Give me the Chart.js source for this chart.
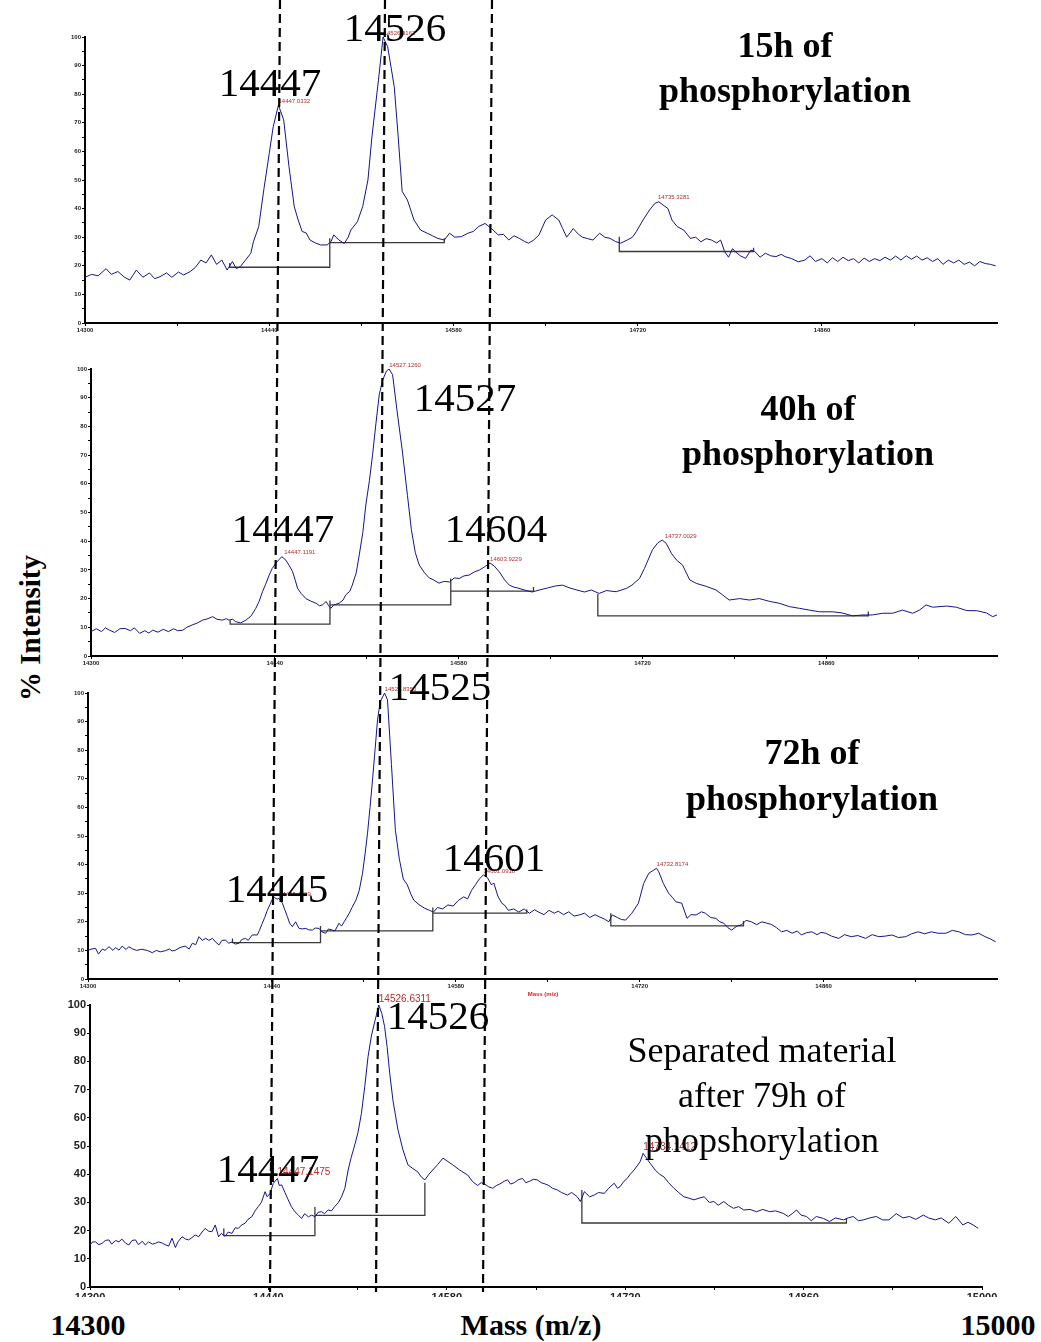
<!DOCTYPE html>
<html>
<head>
<meta charset="utf-8">
<script src="https://cdn.jsdelivr.net/npm/chart.js@4.4.1/dist/chart.umd.min.js"></script>
<style>
  body { margin: 0; background: #fff; }
  #fig { position: relative; width: 1041px; height: 1342px; overflow: hidden;
         font-family: "Liberation Serif", "Times New Roman", serif; }
  canvas { position: absolute; }
  .lbl { position: absolute; transform: translate(-50%, -50%); white-space: nowrap; line-height: 1; color: #000; }
  .mz { font-size: 41px; }
  .title { font-size: 36px; font-weight: bold; }
  .sep { font-size: 36px; }
  .axis { font-size: 30px; font-weight: bold; }
  #guides { position: absolute; left: 0; top: 0; pointer-events: none; }
</style>
</head>
<body>
<div id="fig">
  <canvas id="c1"></canvas>
  <canvas id="c2"></canvas>
  <canvas id="c3"></canvas>
  <canvas id="c4"></canvas>

  <div class="lbl mz" style="left:395px;top:27px">14526</div>
  <div class="lbl mz" style="left:270px;top:82px">14447</div>
  <div class="lbl title" style="left:785px;top:45px">15h of</div>
  <div class="lbl title" style="left:785px;top:90px">phosphorylation</div>

  <div class="lbl mz" style="left:465px;top:397px">14527</div>
  <div class="lbl mz" style="left:283px;top:528px">14447</div>
  <div class="lbl mz" style="left:496px;top:528px">14604</div>
  <div class="lbl title" style="left:808px;top:408px">40h of</div>
  <div class="lbl title" style="left:808px;top:453px">phosphorylation</div>

  <div class="lbl mz" style="left:440px;top:686px">14525</div>
  <div class="lbl mz" style="left:494px;top:857px">14601</div>
  <div class="lbl mz" style="left:277px;top:888px">14445</div>
  <div class="lbl title" style="left:812px;top:752px">72h of</div>
  <div class="lbl title" style="left:812px;top:798px">phosphorylation</div>
  <div class="lbl" style="left:543px;top:994px;font:bold 6px 'Liberation Sans',Arial,sans-serif;color:#e02020">Mass (m/z)</div>

  <div class="lbl mz" style="left:438px;top:1015px">14526</div>
  <div class="lbl mz" style="left:268px;top:1168px">14447</div>
  <div class="lbl sep" style="left:762px;top:1050px">Separated material</div>
  <div class="lbl sep" style="left:762px;top:1095px">after 79h of</div>
  <div class="lbl sep" style="left:762px;top:1140px">phopshorylation</div>

  <div class="lbl axis" style="left:30px;top:628px;transform:translate(-50%,-50%) rotate(-90deg);font-size:29px">% Intensity</div>
  <div class="lbl axis" style="left:88px;top:1325px">14300</div>
  <div class="lbl axis" style="left:531px;top:1325px">Mass (m/z)</div>
  <div class="lbl axis" style="left:998px;top:1325px">15000</div>

  <svg id="guides" width="1041" height="1342"></svg>
</div>

<script>
// ---- data: [mass, % intensity] ----
const p1Spectrum = [
  [14300,16],[14305,17],[14310,16.5],[14316,19],[14320,17],[14325,18],[14330,16],[14334,15],[14339,18.5],[14344,16],
  [14349,17.5],[14353,15.5],[14357,16.2],[14362,17.5],[14366,16],[14371,17.8],[14375,16.8],[14380,18],[14384,19.5],[14388,22],
  [14392,21],[14396,23.8],[14400,20.5],[14404,22],[14408,18.5],[14412,21.5],[14415,19],[14418,19.7],[14422,22],[14426,24.4],
  [14428,28.4],[14432,33.7],[14436,47],[14440,59.3],[14443,68.6],[14447,76.2],[14451,71],[14455,54.7],[14459,40.7],[14462,36],
  [14465,32],[14468,31.5],[14471,29],[14475,28],[14479,27.3],[14484,27.3],[14487,28.5],[14489,30.8],[14493,29],[14497,27.8],
  [14500,30],[14502,32.5],[14507,35.4],[14511,40.7],[14515,50],[14518,65],[14523,85],[14526.5,100],[14530,96.6],[14535,82.6],
  [14538,65],[14541,46],[14545,43],[14550,36],[14555,32.5],[14560,31.4],[14564,30.5],[14568,29.6],[14573,29],[14577,31.4],
  [14581,30],[14586,30.2],[14591,31.4],[14595,32],[14599,33.7],[14604,34.8],[14609,33],[14614,30.8],[14618,31],[14622,29],
  [14626,30.5],[14630,29.6],[14634,28.5],[14637,27.9],[14641,29],[14645,30.8],[14650,36],[14655,37.8],[14660,36],[14663,33],
  [14666,30],[14671,33],[14675,31],[14678,30],[14682,29.5],[14686,29],[14691,31.4],[14695,30],[14699,29.6],[14703,28.5],
  [14707,27.9],[14712,29],[14716,30],[14719,32],[14724,36],[14729,39.5],[14733,41.8],[14736,42.4],[14740,41],[14743,40],
  [14746,36],[14750,33.7],[14755,32.5],[14760,29.6],[14764,30],[14768,28.4],[14772,29.5],[14776,29],[14780,28],[14783,29],
  [14786,25],[14789,23],[14792,26],[14794,25],[14798,23.5],[14802,22.6],[14806,25.5],[14809,25],[14813,23],[14817,24.4],
  [14821,23.5],[14825,23.2],[14829,24],[14832,23.2],[14837,22.5],[14842,21.4],[14847,22],[14851,23.5],[14855,21.5],[14860,22.5],
  [14864,21],[14868,22.8],[14872,21.5],[14876,23],[14880,21.8],[14884,22.5],[14888,21],[14892,22.7],[14896,21.5],[14900,22.5],
  [14904,21.8],[14908,23],[14912,22],[14916,23.4],[14920,22],[14924,23.5],[14928,22.3],[14932,23.4],[14936,22],[14940,22.8],
  [14944,21.5],[14948,22.5],[14952,20.5],[14956,22],[14960,21],[14964,22],[14968,20.5],[14972,21.3],[14976,20],[14980,21.5],
  [14984,20.8],[14988,20.5],[14992,20]
];
const p2Spectrum = [
  [14300,8.5],[14304,9.5],[14308,8.5],[14311,9.8],[14314,9],[14318,8.2],[14322,9.5],[14326,9.6],[14330,8.8],[14333,9.8],
  [14337,7.9],[14341,8.8],[14344,8],[14347,9],[14351,8.3],[14355,9.3],[14359,8.5],[14363,9.5],[14366,8.8],[14370,9],
  [14373,10],[14377,10.8],[14381,11.5],[14385,12.5],[14389,13],[14392.5,13.7],[14396,12.8],[14400,12.5],[14403,13],[14405,12.5],
  [14408,12.8],[14410,12],[14414,11.5],[14418,12.5],[14422,14],[14425.5,16.6],[14428,19],[14430.6,22.4],[14433,25],[14435.7,28.2],
  [14438,30.5],[14440.8,32.3],[14443,33.5],[14445.3,34.6],[14448.4,33.4],[14451,31.5],[14453.5,29.4],[14455.5,26.5],[14457.3,23.6],[14460,21.8],
  [14463.7,20],[14467,19.2],[14471.3,18.4],[14474,17.5],[14476.4,17.8],[14479,19],[14481,17.5],[14482.6,16.6],[14485,17.8],[14489,18.4],
  [14492,19.5],[14494,21.3],[14497,22.5],[14499,24.7],[14502,29],[14504.3,35.2],[14507,43],[14509.3,52.6],[14512,61],[14514.4,70],
  [14517,81],[14519.5,91],[14522,96],[14525,99.3],[14527,100],[14529.7,98],[14533,85.7],[14537,71.8],[14541,56],[14544,44],
  [14547,36],[14550,31.7],[14554,29],[14557.6,27.2],[14561,26.5],[14565,25.4],[14569,26],[14573,25.8],[14576.7,27.2],[14580.5,27],
  [14584,27.9],[14588,28.2],[14592,29.3],[14596,30],[14599.5,31],[14603.9,32.4],[14607,31.4],[14611,29.3],[14615,26.5],[14618.6,24.7],
  [14622,24],[14625,23.7],[14630,23],[14636,22.3],[14641.5,23],[14647.6,23.7],[14653.7,24.4],[14659,24.7],[14664,23.8],[14670,23],
  [14675.8,22.3],[14681,23],[14687,21.8],[14692.5,22.8],[14700,22.4],[14708,23.6],[14712,24.7],[14717.7,27],[14721.5,30.5],[14727.6,37],
  [14731.4,39.3],[14735,40.4],[14738,39.3],[14742,35.8],[14746,33.4],[14750.5,31.7],[14756,26.5],[14761,25.3],[14769,24.2],[14776,23],
  [14781,21.3],[14786,19.5],[14794,20],[14801.5,19.5],[14809,20],[14817,19],[14824,18.4],[14832,17.2],[14839.6,16.6],[14847,16],
  [14855,15.4],[14865,15.4],[14872,15],[14880,14],[14887.7,14.3],[14895,14.3],[14903,14.9],[14910.5,14.9],[14918,16],[14925.8,14.9],
  [14931,16],[14936,17.8],[14941,17],[14951.7,17.4],[14959,17],[14967,15.8],[14974.5,15.8],[14982,15],[14986.7,13.7],[14990,14.3]
];
const p3Spectrum = [
  [14300,10.1],[14303,10.5],[14305.8,10.7],[14308,8.7],[14311,10.5],[14313,10],[14316,11.3],[14319,10],[14321,11],[14323.6,10.1],
  [14326,11.5],[14329,10.3],[14331,11.3],[14334,10.5],[14337,10],[14341,10.4],[14345,10],[14349,9.2],[14352,10],[14355,9.5],
  [14359,9.9],[14362,10.5],[14364,9.8],[14366.7,10.1],[14370,11],[14374,11.5],[14377,10.5],[14379.4,12.5],[14382,12],[14384.5,14.8],
  [14387,13.5],[14389.6,14.2],[14392,13.5],[14394.7,14.2],[14397,13],[14399.7,11.9],[14402,13.5],[14404.8,13.6],[14407,12.5],[14409.9,13],
  [14412,12.2],[14415,12.5],[14417,13.8],[14420,14.2],[14422,13.5],[14425,15.4],[14428.9,15.4],[14430.5,17],[14432.7,19.5],[14434.5,21.5],
  [14436.5,24],[14438.5,26],[14440.3,27.9],[14442,28.5],[14444,27.9],[14445.4,28.2],[14448,26.5],[14450,24],[14451.8,21.8],[14453.5,19.5],
  [14455.6,18.3],[14458,20],[14460.7,17.7],[14463,17.5],[14465.8,17.7],[14468,17.2],[14470.8,17.1],[14473,17.8],[14475.9,17.7],[14478,16.5],
  [14481,16],[14483,17.5],[14486,17.1],[14488,16.8],[14491,19.5],[14493,18.5],[14495,20],[14497,21.5],[14498.9,23],[14501,25],
  [14504,27.6],[14506.5,31],[14509,37],[14511,44],[14512.8,51],[14514.7,60],[14516.6,69.6],[14518.5,80],[14520.4,90.6],[14522.5,97],
  [14525.8,100],[14528,97.6],[14531,75],[14534,52],[14537,42],[14540,35],[14543,33],[14546,29.5],[14548,27.6],[14552,26],
  [14556,24.8],[14560,24],[14563,23.4],[14566,25],[14570,24.5],[14574,25.9],[14578,25.5],[14582,27.5],[14586,28.7],[14589,28],
  [14592,31],[14595,33],[14598,35],[14601,36.4],[14604,35.5],[14607,33],[14609,33.5],[14612,29],[14615,26.5],[14617,25.9],
  [14620,24],[14624,24.5],[14628,23.4],[14632,24.5],[14636,23],[14640,24.2],[14643,23.4],[14647,22.5],[14651,24],[14655,23],
  [14658,23.7],[14662,22.5],[14666,23.5],[14670,22],[14674,22.4],[14678,23],[14682,21.5],[14686,22.5],[14689,21.8],[14693,21],
  [14696.5,20],[14699,22.4],[14703,21.5],[14706,20.8],[14709.4,20.6],[14714,23],[14719,26.5],[14723,33.4],[14727,37],[14732.8,38.7],
  [14734.5,37.5],[14738,33.4],[14742,30],[14745,28.5],[14747.5,27],[14752,26.5],[14756,21.2],[14759,22.5],[14763,22.4],[14767,23.5],
  [14770,23],[14774,21.5],[14778,21.2],[14781,20],[14784,19.5],[14787,18],[14790,17.1],[14794,18.5],[14797.7,19],[14801,20.5],
  [14805,20],[14809,19],[14813,20],[14817,19.5],[14820.5,19],[14824,18],[14828,16.5],[14832,17],[14836,16],[14840,16.8],
  [14843,15.4],[14847,16.2],[14851,16.5],[14855,15.5],[14858,16.3],[14861.6,16],[14866,15],[14871.5,14.2],[14876,15.5],[14881,14.8],
  [14886,15.2],[14892,14.2],[14897,15.5],[14902,14.8],[14907,15],[14912,15.4],[14917,14.5],[14922.5,14.8],[14927,15.8],[14932,16.5],
  [14937,15.8],[14942,16.5],[14947,16],[14953,16],[14958,17],[14963,16.5],[14968,15.5],[14973,15.4],[14978,16],[14983,14.8],
  [14987,14],[14991,13]
];
const p4Spectrum = [
  [14300,14.9],[14302,16],[14304.4,16],[14307,15],[14309.6,15.5],[14312,16.5],[14314.8,16.7],[14317,15.2],[14320,16.5],[14322.7,16],
  [14325,17],[14328,15.5],[14330.5,14.9],[14333,16.5],[14335.7,16.7],[14338,15],[14341,16.2],[14343.5,14.9],[14346,16],[14349,15.2],
  [14351.3,15.5],[14354,16],[14357,15.5],[14359,15],[14361.7,14.5],[14364.4,17.3],[14367,14],[14369,16],[14372.2,17.8],[14375,17],
  [14377.4,16.7],[14380,17.5],[14382.5,18.5],[14385.2,17.8],[14388,19.5],[14390.4,20.8],[14393,19.8],[14395.7,19.6],[14398.3,22],[14400.9,17.8],
  [14403,19],[14406,18],[14408.5,19.5],[14411.3,19],[14414,21],[14416.5,20.8],[14419,22],[14421.7,22.6],[14424,24],[14427,24.9],
  [14429.5,27],[14432,28.5],[14434.5,30],[14437.4,33.8],[14439,32],[14441.3,33.2],[14443.9,36.8],[14447.1,38.5],[14448.5,36],[14450.4,36.2],
  [14453,33.5],[14455.6,30.9],[14458,28.5],[14460.8,26.7],[14463.5,25.5],[14466,24.3],[14468.5,26],[14471.3,24.9],[14474,25.5],[14476.5,24.9],
  [14479,26.5],[14481.7,26.7],[14484,26],[14486.9,27.3],[14489.5,27],[14492,28.5],[14495,30],[14497.4,32],[14500,35],[14502.6,41.5],
  [14505,46],[14507.8,50.4],[14510.4,55],[14513,61.6],[14515.6,71],[14518.2,81.7],[14520.8,89],[14523.4,94],[14524.8,96.5],[14526.6,100],
  [14529,97],[14531.2,92.3],[14533.2,85],[14535.2,75.8],[14537.8,66],[14541.7,55.7],[14545.6,48.6],[14549.5,43.3],[14553.4,42],[14557.3,40.8],
  [14560,39],[14562.8,38],[14566,40],[14569,41.5],[14573,43.5],[14577,45.7],[14580.8,44.5],[14584.7,43.3],[14590,41.5],[14596.4,39.7],
  [14600,37.5],[14604,36],[14607,37],[14609.7,36.5],[14613,35.5],[14616,35],[14619,36],[14621.5,36.5],[14625,37.5],[14627.7,38],
  [14630,36.5],[14633,37],[14636,38],[14639.4,38.5],[14642,37],[14645,37.5],[14648,38.2],[14651,38],[14654,37],[14657.4,36.5],
  [14660,36],[14663,35],[14666.8,34.4],[14670,33.5],[14674.6,32.6],[14678,33.5],[14682.4,32],[14684.8,30.3],[14688,33.8],[14692,32],
  [14695.7,32.6],[14699,33.5],[14703.6,33.2],[14707,35],[14711.4,36.8],[14714,35],[14716,35.6],[14719,37.5],[14721.6,38.5],[14724,40],
  [14727,41.5],[14731.7,44.4],[14734.1,47.4],[14737,45.5],[14739.5,43.9],[14743.5,41.5],[14747,40],[14750.5,39],[14754,37],[14758.3,35],
  [14762,33.5],[14766,32],[14770,31.5],[14774,30.9],[14778,31.5],[14782,32],[14786,30],[14789.6,30.3],[14793,29],[14797.4,30.3],
  [14801,29],[14805,27.9],[14809,28.5],[14813,27.3],[14818,27.5],[14823,26.7],[14828,27.5],[14833.4,26.7],[14838,27],[14844,26.1],
  [14848,25],[14851,26],[14854.5,27.3],[14858,25.5],[14862.3,25],[14866,23.5],[14870,25],[14875.6,24.3],[14880.3,23.2],[14885,24.5],
  [14891.3,23.8],[14895,24.5],[14899,25],[14903,23.5],[14907,23.8],[14912,24.5],[14917,25],[14922,23.8],[14927,23.8],[14932.7,26],
  [14938,24.5],[14943,25],[14948,24],[14954,25.5],[14958,24.5],[14963.4,23.8],[14968,24.5],[14974,22.6],[14979.4,25],[14985,22],
  [14989,23],[14993,22],[14997,20.8]
];

// baseline brackets (null = break between brackets)
const p1BaseMass = [14410,14410,14486,14486,14486,14486,14573,14573,14573,14706,14706,14808,14808];
const p1BaseInt  = [21,19.5,19.5,29.6,null,28.1,28.1,29.6,null,30.2,25,25,26.3];
const p2BaseMass = [14406,14406,14482,14482,14482,14482,14574,14574,14574,14574,14637,14637,14637,14686,14686,14892,14892];
const p2BaseInt  = [12.5,11.1,11.1,19.3,null,17.8,17.8,27,null,22.6,22.6,24,null,21.6,14,14,15.5];
const p3BaseMass = [14410,14410,14477,14477,14477,14477,14562.5,14562.5,14562.5,14562.5,14634,14634,14634,14698,14698,14799,14799];
const p3BaseInt  = [14.2,12.7,12.7,18.5,null,16.8,16.8,25,null,23,23,24.3,null,23,18.6,18.6,20.3];
const p4BaseMass = [14405,14405,14476.5,14476.5,14476.5,14476.5,14562.8,14562.8,14562.8,14686,14686,14893.6,14893.6];
const p4BaseInt  = [20.8,18.2,18.2,28.4,null,25.4,25.4,37,null,34.4,22.7,22.7,24.5];

// labelled peak centroids (red annotations)
const p1PeakMass = [14447.0332, 14526.9162, 14735.3281];
const p1PeakInt  = [76.2, 100, 42.4];
const p2PeakMass = [14447.1191, 14527.1260, 14603.9229, 14737.0029];
const p2PeakInt  = [34.6, 100, 32.4, 40.4];
const p3PeakMass = [14445.4609, 14525.8350, 14601.0918, 14732.8174];
const p3PeakInt  = [28.2, 100, 36.4, 38.7];
const p4PeakMass = [14447.1475, 14526.6311, 14734.1412];
const p4PeakInt  = [38.5, 100, 47.4];

// axis ticks
const xTicks = [14300,14370,14440,14510,14580,14650,14720,14790,14860,14930];
const xTicksLast = [14300,14370,14440,14510,14580,14650,14720,14790,14860,14930,15000];
const yTicks = [0,5,10,15,20,25,30,35,40,45,50,55,60,65,70,75,80,85,90,95,100];

const panels = [
  { id: 'c1', spectrum: p1Spectrum, baseMass: p1BaseMass, baseInt: p1BaseInt, peakMass: p1PeakMass, peakInt: p1PeakInt,
    xMax: 14993, xTicks: xTicks, left: 45, top: 25, w: 967, h: 316, yW: 40, padTop: 12, padRight: 15, xH: 18, tickFont: 6, peakFont: 6 },
  { id: 'c2', spectrum: p2Spectrum, baseMass: p2BaseMass, baseInt: p2BaseInt, peakMass: p2PeakMass, peakInt: p2PeakInt,
    xMax: 14990, xTicks: xTicks, left: 51, top: 357, w: 961, h: 317, yW: 40, padTop: 12, padRight: 15, xH: 18, tickFont: 6, peakFont: 6 },
  { id: 'c3', spectrum: p3Spectrum, baseMass: p3BaseMass, baseInt: p3BaseInt, peakMass: p3PeakMass, peakInt: p3PeakInt,
    xMax: 14992, xTicks: xTicks, left: 48, top: 681, w: 964, h: 316, yW: 40, padTop: 12, padRight: 15, xH: 18, tickFont: 6, peakFont: 6 },
  { id: 'c4', spectrum: p4Spectrum, baseMass: p4BaseMass, baseInt: p4BaseInt, peakMass: p4PeakMass, peakInt: p4PeakInt,
    xMax: 15000, xTicks: xTicksLast, left: 50, top: 993, w: 952, h: 304, yW: 40, padTop: 12, padRight: 20, xH: 10, tickFont: 11, peakFont: 10 }
];

const tickFamily = '"Liberation Sans", Arial, sans-serif';

function makePanel(cfg) {
  const cv = document.getElementById(cfg.id);
  cv.width = cfg.w;
  cv.height = cfg.h;
  cv.style.left = cfg.left + 'px';
  cv.style.top = cfg.top + 'px';

  const spec = cfg.spectrum.map(p => ({ x: p[0], y: p[1] }));
  const base = cfg.baseMass.map((m, i) => ({ x: m, y: cfg.baseInt[i] }));

  // red centroid labels sit on top of each labelled peak
  const peakText = {
    id: 'peakText',
    afterDatasetsDraw(chart) {
      const c = chart.ctx, xs = chart.scales.x, ys = chart.scales.y;
      c.save();
      c.fillStyle = '#b3302e';
      c.font = cfg.peakFont + 'px ' + tickFamily;
      c.textAlign = 'left';
      c.textBaseline = 'bottom';
      cfg.peakMass.forEach((m, i) => {
        c.fillText(m.toFixed(4), xs.getPixelForValue(m), ys.getPixelForValue(cfg.peakInt[i]) - 1);
      });
      c.restore();
    }
  };

  new Chart(cv, {
    type: 'line',
    data: {
      datasets: [
        { data: spec, borderColor: '#14148c', borderWidth: 1, pointRadius: 0, tension: 0, clip: false },
        { data: base, borderColor: '#3a3a3a', borderWidth: 1.3, pointRadius: 0, spanGaps: false, clip: false }
      ]
    },
    options: {
      responsive: false,
      animation: false,
      events: [],
      layout: { padding: { top: cfg.padTop, right: cfg.padRight, left: 0, bottom: 0 } },
      plugins: { legend: { display: false }, tooltip: { enabled: false } },
      scales: {
        x: {
          type: 'linear', min: 14300, max: cfg.xMax,
          afterBuildTicks: s => { s.ticks = cfg.xTicks.map(v => ({ value: v })); },
          afterFit: s => { s.height = cfg.xH; },
          ticks: {
            callback: v => ((v - 14300) % 140 === 0 ? String(v) : ''),
            font: { size: cfg.tickFont, weight: 'bold', family: tickFamily },
            color: '#222', maxRotation: 0, minRotation: 0, autoSkip: false, padding: 1
          },
          grid: { drawOnChartArea: false, tickLength: 3, color: '#000' },
          border: { color: '#000', width: 2 }
        },
        y: {
          min: 0, max: 100,
          afterBuildTicks: s => { s.ticks = yTicks.map(v => ({ value: v })); },
          afterFit: s => { s.width = cfg.yW; },
          ticks: {
            callback: v => (v % 10 === 0 ? String(v) : ''),
            font: { size: cfg.tickFont, weight: 'bold', family: tickFamily },
            color: '#222', padding: 1
          },
          grid: { drawOnChartArea: false, tickLength: 3, color: '#000' },
          border: { color: '#000', width: 2 }
        }
      }
    },
    plugins: [peakText]
  });
}

panels.forEach(makePanel);

// dashed guide lines running through all four spectra
const guides = [[280, 0, 270, 1292], [385, 0, 376, 1292], [492, 0, 483, 1292]];
const svg = document.getElementById('guides');
guides.forEach(g => {
  const ln = document.createElementNS('http://www.w3.org/2000/svg', 'line');
  ln.setAttribute('x1', g[0]); ln.setAttribute('y1', g[1]);
  ln.setAttribute('x2', g[2]); ln.setAttribute('y2', g[3]);
  ln.setAttribute('stroke', '#000');
  ln.setAttribute('stroke-width', '2.2');
  ln.setAttribute('stroke-dasharray', '9 5');
  svg.appendChild(ln);
});
</script>
</body>
</html>
